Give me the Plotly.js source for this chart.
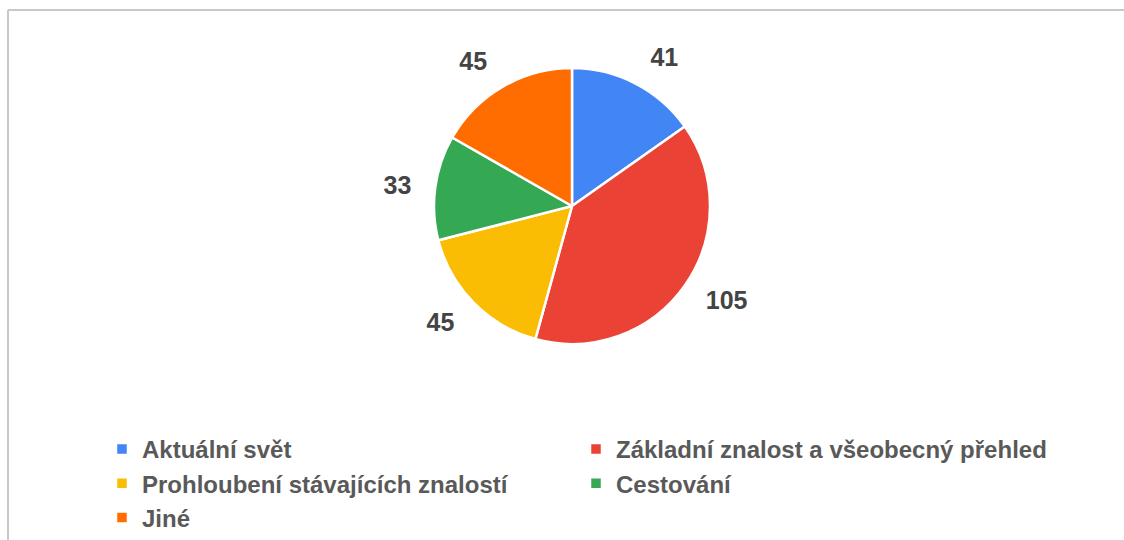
<!DOCTYPE html>
<html>
<head>
<meta charset="utf-8">
<script src="https://cdn.plot.ly/plotly-3.0.1.min.js"></script>
<style>
  html, body { margin: 0; padding: 0; background: #ffffff; }
  #chart { width: 1124px; height: 540px; }
</style>
</head>
<body>
<div id="chart"></div>
<script>
const categories = [
  "Aktuální svět",
  "Základní znalost a všeobecný přehled",
  "Prohloubení stávajících znalostí",
  "Cestování",
  "Jiné"
];
const values = [41, 105, 45, 33, 45];
const colors = ["#4285F4", "#EA4335", "#FBBC04", "#34A853", "#FF6D01"];

const W = 1124, H = 540;
const cx = 572, cy = 206;       // pie centre (px)
const r = 138;                  // pie radius (px)
const rl = 155;                 // radius of the invisible label ring (px)

function dom(rad) {
  return {
    x: [(cx - rad) / W, (cx + rad) / W],
    y: [(H - cy - rad) / H, (H - cy + rad) / H]
  };
}

// invisible ring that only carries the outside value labels
const labelTrace = {
  type: "pie",
  labels: categories,
  values: values,
  sort: false,
  direction: "clockwise",
  rotation: 0,
  marker: { colors: categories.map(() => "rgba(0,0,0,0)"), line: { width: 0 } },
  textinfo: "value",
  textposition: "outside",
  outsidetextfont: { family: "Liberation Sans, Arial, sans-serif", size: 25, color: "#444444", weight: "bold" },
  hoverinfo: "skip",
  showlegend: false,
  domain: dom(rl),
  automargin: false
};

const pieTrace = {
  type: "pie",
  labels: categories,
  values: values,
  sort: false,
  direction: "clockwise",
  rotation: 0,
  marker: { colors: colors, line: { color: "#ffffff", width: 2.5 } },
  textinfo: "none",
  hoverinfo: "label+value+percent",
  domain: dom(r),
  automargin: false
};

const layout = {
  width: W,
  height: H,
  margin: { l: 0, r: 0, t: 0, b: 0 },
  paper_bgcolor: "#ffffff",
  plot_bgcolor: "#ffffff",
  showlegend: true,
  legend: {
    orientation: "h",
    x: 102 / W,
    xanchor: "left",
    y: 0,
    yanchor: "bottom",
    entrywidth: 429,
    entrywidthmode: "pixels",
    traceorder: "normal",
    font: { family: "Liberation Sans, Arial, sans-serif", size: 24, color: "#595959", weight: "bold" },
    bgcolor: "rgba(0,0,0,0)"
  },
  shapes: [
    { type: "line", xref: "paper", yref: "paper", x0: 8 / W, x1: 1, y0: 1 - 10 / H, y1: 1 - 10 / H, line: { color: "#c8c8c8", width: 2 } },
    { type: "line", xref: "paper", yref: "paper", x0: 8 / W, x1: 8 / W, y0: 0, y1: 1 - 10 / H, line: { color: "#c8c8c8", width: 2 } }
  ]
};

Plotly.newPlot("chart", [labelTrace, pieTrace], layout, { displayModeBar: false, responsive: false });
</script>
</body>
</html>
